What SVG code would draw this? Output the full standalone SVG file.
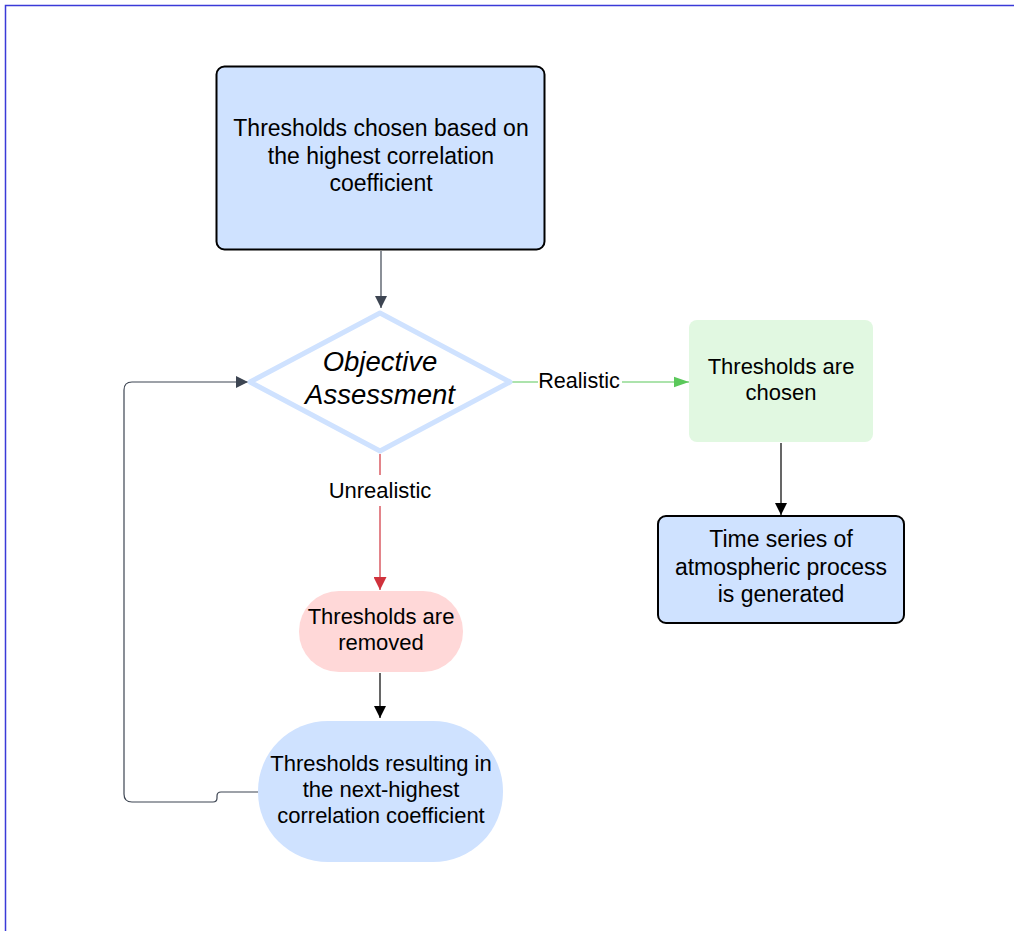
<svg xmlns="http://www.w3.org/2000/svg" width="1014" height="931" viewBox="0 0 1014 931">
<defs>
<style>
text{font-family:"Liberation Sans",Arial,sans-serif;fill:#000;text-anchor:middle}
.t23{font-size:23px}
.t22{font-size:22px}
.conn{fill:none;stroke-width:1.2}
</style>
<marker id="aGray" viewBox="0 0 10 10" refX="10" refY="5" markerWidth="12" markerHeight="12" markerUnits="userSpaceOnUse" orient="auto"><path d="M0,0L10,5L0,10z" fill="#3d4552"/></marker>
<marker id="aBlack" viewBox="0 0 10 10" refX="10" refY="5" markerWidth="12" markerHeight="12" markerUnits="userSpaceOnUse" orient="auto"><path d="M0,0L10,5L0,10z" fill="#000"/></marker>
<marker id="aRed" viewBox="0 0 10 10" refX="10" refY="5" markerWidth="13" markerHeight="13" markerUnits="userSpaceOnUse" orient="auto"><path d="M0,0L10,5L0,10z" fill="#d0323c"/></marker>
<marker id="aGreen" viewBox="0 0 10 10" refX="10" refY="5" markerWidth="15" markerHeight="15" markerUnits="userSpaceOnUse" orient="auto"><path d="M0,1.5L10,5L0,8.5z" fill="#5ac85a"/></marker>
</defs>
<rect width="1014" height="931" fill="#fff"/>
<path d="M5.5,931V5.5H1014" fill="none" stroke="#3a3ad8" stroke-width="1.5"/>
<g id="connectors">
<path class="conn" d="M381,251V308" stroke="#3d4552" marker-end="url(#aGray)"/>
<path class="conn" d="M512,382H689" stroke="#5ac85a" stroke-width="2" marker-end="url(#aGreen)"/>
<path class="conn" d="M380,454V590" stroke="#d0323c" stroke-width="2" marker-end="url(#aRed)"/>
<path class="conn" d="M781,443V515" stroke="#000" marker-end="url(#aBlack)"/>
<path class="conn" d="M380,673V718" stroke="#000" marker-end="url(#aBlack)"/>
<path class="conn" d="M258,792H221Q217,792 217,796V798Q217,802 213,802H132Q124,802 124,794V390Q124,382 132,382H248" stroke="#3d4552" marker-end="url(#aGray)"/>
<rect x="538" y="368" width="84" height="24" fill="#fff"/>
<text x="579" y="388" font-size="21.6">Realistic</text>
<rect x="325" y="475" width="110" height="31" fill="#fff"/>
<text class="t22" x="380" y="498">Unrealistic</text>
</g>
<g id="n1">
<rect x="216.5" y="66.5" width="328" height="183" rx="8" fill="#cfe2ff" stroke="#000" stroke-width="2"/>
<text class="t23" x="381" y="136">Thresholds chosen based on</text>
<text class="t23" x="381" y="164">the highest correlation</text>
<text class="t23" x="381" y="191">coefficient</text>
</g>
<g id="n2">
<path d="M380,313L510,382L380,451L250,382Z" fill="#fff" stroke="#cfe2ff" stroke-width="5" stroke-linejoin="round"/>
<text x="380" y="371" font-size="27.5" font-style="italic">Objective</text>
<text x="380" y="404" font-size="27.5" font-style="italic">Assessment</text>
</g>
<g id="n3">
<rect x="689" y="320" width="184" height="122" rx="8" fill="#e1f8e1"/>
<text class="t22" x="781" y="374">Thresholds are</text>
<text class="t22" x="781" y="400">chosen</text>
</g>
<g id="n4">
<rect x="658" y="516" width="246" height="107" rx="8" fill="#cfe2ff" stroke="#000" stroke-width="2"/>
<text class="t23" x="781" y="547">Time series of</text>
<text class="t23" x="781" y="575">atmospheric process</text>
<text class="t23" x="781" y="602">is generated</text>
</g>
<g id="n5">
<rect x="299" y="591" width="164" height="81" rx="40" fill="#ffd8d8"/>
<text class="t22" x="381" y="624">Thresholds are</text>
<text class="t22" x="381" y="650">removed</text>
</g>
<g id="n6">
<rect x="258" y="721" width="245" height="141" rx="70" fill="#cfe2ff"/>
<text class="t22" x="381" y="771">Thresholds resulting in</text>
<text class="t22" x="381" y="797">the next-highest</text>
<text class="t22" x="381" y="823">correlation coefficient</text>
</g>
</svg>
